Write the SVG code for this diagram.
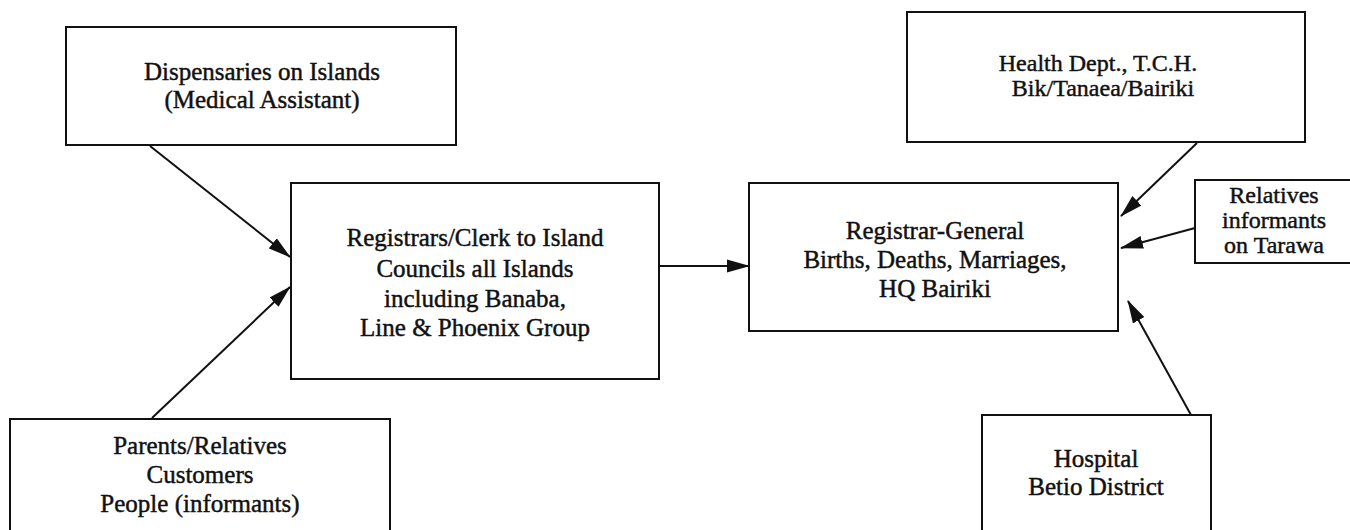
<svg xmlns="http://www.w3.org/2000/svg" width="1350" height="530" viewBox="0 0 1350 530">
  <style>
    .box { fill: #fff; stroke: #111; stroke-width: 2; }
    .lbl { font-family: "Liberation Serif", "Times New Roman", serif; font-size: 25px; fill: #111; stroke: #111; stroke-width: 0.45; text-anchor: middle; }
    .sm { font-size: 24px; }
    .edge { stroke: #111; stroke-width: 2; fill: none; marker-end: url(#arrow); }
  </style>
  <defs>
    <marker id="arrow" markerUnits="userSpaceOnUse" markerWidth="23" markerHeight="14" refX="22" refY="7" orient="auto">
      <path d="M0,0.5 L23,7 L0,13.5 Z" fill="#111"/>
    </marker>
  </defs>
  <rect width="1350" height="530" fill="#fff"/>

  <g id="connectors">
    <line class="edge" x1="150" y1="146" x2="290" y2="257"/>
    <line class="edge" x1="152" y1="418" x2="290" y2="287"/>
    <line class="edge" x1="659" y1="266" x2="749" y2="266"/>
    <line class="edge" x1="1197" y1="143" x2="1121" y2="216"/>
    <line class="edge" x1="1195" y1="228" x2="1121" y2="248"/>
    <line class="edge" x1="1191" y1="415" x2="1128" y2="301"/>
  </g>

  <g id="dispensaries">
    <rect class="box" x="66" y="27" width="390" height="118"/>
    <text class="lbl" x="262" y="80">Dispensaries on Islands</text>
    <text class="lbl" x="262" y="108">(Medical Assistant)</text>
  </g>

  <g id="registrars">
    <rect class="box" x="291" y="183" width="368" height="196"/>
    <text class="lbl" x="475" y="246">Registrars/Clerk to Island</text>
    <text class="lbl" x="475" y="277">Councils all Islands</text>
    <text class="lbl" x="475" y="307">including Banaba,</text>
    <text class="lbl" x="475" y="336">Line &amp; Phoenix Group</text>
  </g>

  <g id="parents">
    <rect class="box" x="10" y="419" width="380" height="120"/>
    <text class="lbl" x="200" y="454">Parents/Relatives</text>
    <text class="lbl" x="200" y="483">Customers</text>
    <text class="lbl" x="200" y="512">People (informants)</text>
  </g>

  <g id="registrar-general">
    <rect class="box" x="749" y="183" width="369" height="148"/>
    <text class="lbl" x="935" y="239">Registrar-General</text>
    <text class="lbl" x="935" y="268">Births, Deaths, Marriages,</text>
    <text class="lbl" x="935" y="297">HQ Bairiki</text>
  </g>

  <g id="health-dept">
    <rect class="box" x="907" y="12" width="398" height="130"/>
    <text class="lbl sm" x="1098" y="71">Health Dept., T.C.H.</text>
    <text class="lbl sm" x="1103" y="96">Bik/Tanaea/Bairiki</text>
  </g>

  <g id="relatives">
    <rect class="box" x="1195" y="180" width="165" height="83"/>
    <text class="lbl sm" x="1274" y="203">Relatives</text>
    <text class="lbl sm" x="1274" y="228">informants</text>
    <text class="lbl sm" x="1274" y="253">on Tarawa</text>
  </g>

  <g id="hospital">
    <rect class="box" x="982" y="415" width="229" height="125"/>
    <text class="lbl" x="1096" y="467">Hospital</text>
    <text class="lbl" x="1096" y="495">Betio District</text>
  </g>
</svg>
